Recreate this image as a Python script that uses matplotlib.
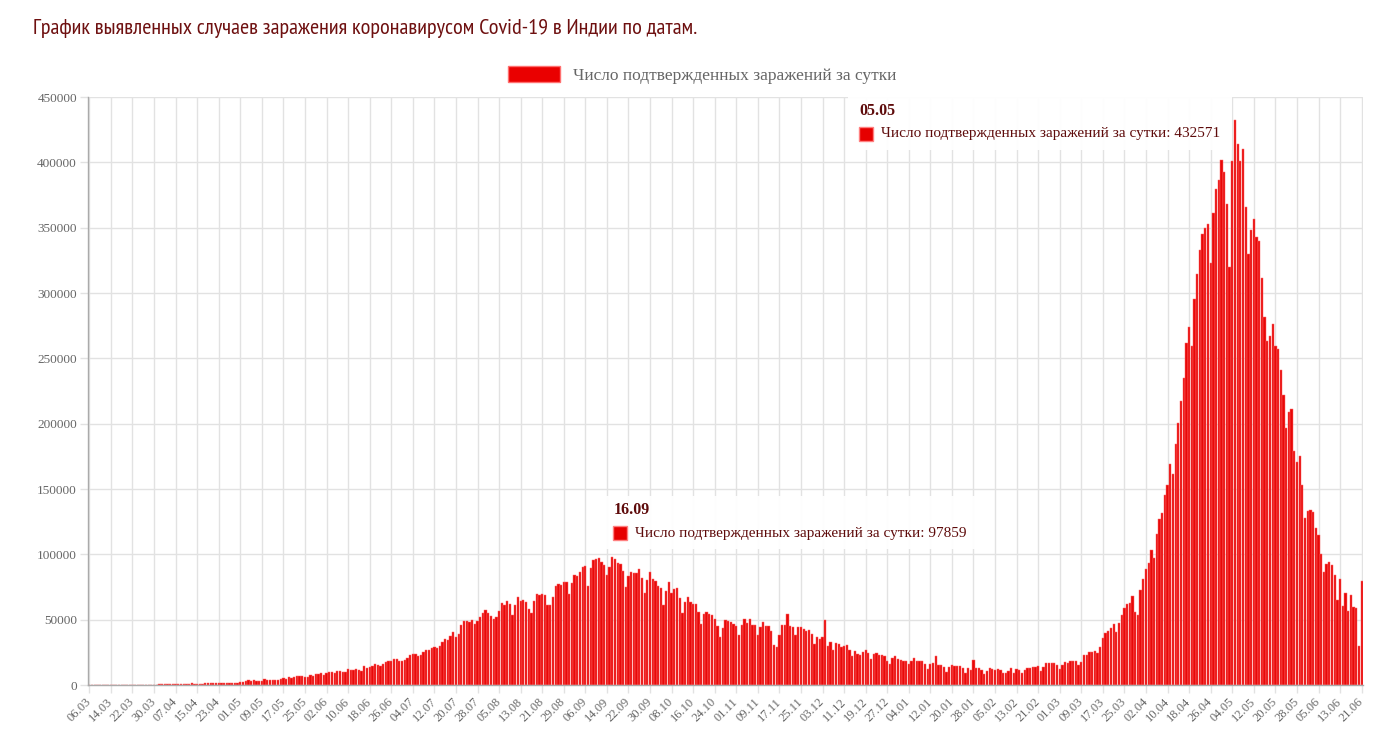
import matplotlib
matplotlib.use('Agg')
import matplotlib.pyplot as plt
import numpy as np
import pandas as pd
from matplotlib.patches import Rectangle
from matplotlib.transforms import IdentityTransform
from matplotlib.font_manager import FontProperties

# ---------------- data ----------------
start_date = '2020-03-06'
series_label = 'Число подтвержденных заражений за сутки'
title_text = 'График выявленных случаев заражения коронавирусом Covid-19 в Индии по датам.'
tooltip_dates = ['2020-09-16', '2021-05-05']

mar20 = [3, 3, 5, 4, 13, 12, 11, 9, 20, 11, 22, 23, 14, 38, 50, 86, 66, 103, 37, 121,
         70, 160, 100, 135, 169, 309]
apr20 = [424, 486, 560, 579, 609, 484, 573, 565, 813, 871, 854, 758, 1243, 1031, 886,
         1061, 922, 1371, 1580, 1239, 1537, 1292, 1667, 1408, 1835, 1607, 1561, 1873, 1738, 1801]
may20 = [2396, 2564, 2952, 3656, 2971, 3602, 3344, 3339, 3175, 4311, 3592, 3562, 3726, 3991,
         3808, 4794, 5050, 4630, 6147, 5553, 6198, 6568, 6629, 7111, 6414, 6382, 7466, 7246,
         8364, 8102, 8838]
jun20 = [7761, 8818, 9638, 9849, 9472, 10438, 10864, 9982, 9985, 12375, 11128, 11306, 12023,
         11502, 10667, 14516, 13106, 13827, 14740, 15915, 15151, 14831, 15968, 17292, 18185,
         18041, 20131, 19620, 18339, 18256]
jul20 = [19428, 20903, 22721, 24018, 23942, 22500, 22752, 24879, 26506, 27114, 28637, 29108,
         28498, 29917, 32607, 34884, 34820, 37407, 40243, 36810, 39170, 45720, 48916, 49310,
         48472, 49931, 46484, 49001, 52123, 55078, 57118]
aug20 = [54735, 52972, 50629, 52050, 56282, 62538, 61537, 64399, 62064, 53601, 60963, 66999,
         64553, 65002, 63490, 57981, 55079, 64531, 69652, 68898, 69878, 69239, 61408, 60975,
         67151, 75760, 77266, 76472, 78761, 78512, 69921]
sep20 = [78357, 83883, 83341, 86432, 90632, 90802, 75809, 89706, 95735, 96551, 97570, 94372,
         92071, 83809, 90123, 97859, 96424, 93337, 92605, 86961, 75083, 83347, 86508, 86052,
         85362, 88600, 82170, 70589, 80472, 86821]
oct20 = [81484, 79476, 75829, 74442, 61267, 72049, 78524, 70496, 73272, 74383, 66732, 55342,
         63509, 67708, 63371, 62212, 61871, 55722, 46790, 54044, 55839, 54366, 53370, 50129,
         45148, 36470, 43893, 49881, 48648, 48268, 46964]
nov20 = [45231, 38310, 46253, 50210, 47638, 50357, 45674, 45903, 38073, 44281, 47905, 44879,
         44878, 41100, 30548, 29163, 38617, 45576, 45882, 54000, 45209, 44059, 37975, 44376,
         44489, 43082, 41322, 41810, 38772, 31118]
dec20 = [36604, 35551, 36595, 50000, 30000, 32981, 26567, 32080, 31521, 29398, 30006, 30254,
         27071, 22065, 26382, 24010, 22890, 25152, 26624, 24337, 19556, 23950, 24712, 23067,
         23068, 22273, 18732, 16432, 20550, 21822, 20035]
jan21 = [19078, 18177, 18088, 16375, 18088, 20346, 18139, 18222, 18645, 16311, 12584, 15968,
         16946, 22000, 15158, 15144, 13788, 10064, 13823, 15223, 14545, 14256, 14849, 13203,
         9102, 12689, 11666, 18855, 13083, 13052, 11427]
feb21 = [8635, 11039, 12899, 12408, 11713, 12059, 11831, 9110, 9110, 11067, 12923, 9309,
         12143, 11649, 9121, 11610, 12881, 13193, 13993, 13993, 14264, 10584, 13742, 16738,
         16577, 16488, 16752, 15510]
mar21 = [12286, 14989, 17407, 16838, 18327, 18711, 18711, 15388, 17921, 22854, 23285, 24882,
         25320, 26291, 24492, 28903, 35871, 39726, 40953, 43846, 46951, 40715, 47262, 53476,
         59118, 62258, 62714, 68020, 56211, 53480, 72330]
apr21 = [81466, 89129, 93249, 103558, 96982, 115736, 126789, 131968, 145384, 152879, 168912,
         161736, 184372, 200739, 217353, 234692, 261500, 273810, 259170, 295041, 314835,
         332730, 345147, 349691, 352991, 323144, 360960, 379257, 386452, 401993]
may21 = [392488, 368147, 320000, 401000, 432571, 414188, 401078, 410000, 366161, 329942,
         348421, 357000, 343144, 340000, 311170, 281386, 263533, 267334, 276110, 259551,
         257299, 240842, 222315, 196427, 208921, 211298, 179000, 170500, 175000, 152734, 127510]
jun21 = [132788, 134154, 132364, 120529, 114460, 100636, 86498, 92596, 94052, 91702, 84332,
         65000, 81000, 60471, 70600, 57000, 69000, 60000, 59000, 30000, 79500]

values = np.array(mar20 + apr20 + may20 + jun20 + jul20 + aug20 + sep20 + oct20 + nov20 +
                  dec20 + jan21 + feb21 + mar21 + apr21 + may21 + jun21)
dates = pd.date_range(start_date, periods=len(values), freq='D')
labels = list(dates.strftime('%d.%m'))
x = np.arange(len(values))

# ---------------- style ----------------
W, H = 1378, 736
serif = ['Liberation Serif', 'DejaVu Serif']
narrow = ['PT Sans Narrow', 'DejaVu Sans']
bar_color = '#e80808'
grid_color = '#e2e2e2'
tick_color = '#666666'
dark_red = '#5e0b0b'

fig = plt.figure(figsize=(W / 100, H / 100), dpi=100)
ax = fig.add_axes([88 / W, (H - 685) / H, (1363 - 88) / W, (685 - 97) / H])

ax.bar(x, values, width=0.84, color=bar_color, edgecolor='#ff6a6a', linewidth=0.35,
       zorder=2, label=series_label)

ax.set_xlim(-0.5, len(values) - 0.5)
ax.set_ylim(0, 450000)
yt = np.arange(0, 450001, 50000)
ax.set_yticks(yt)
ax.set_yticklabels([str(v) for v in yt], fontfamily=serif)
ax.set_xticks(x[::8])
ax.set_xticklabels(labels[::8], rotation=45, ha='right', va='center',
                   rotation_mode='anchor', fontfamily=serif)

ax.grid(True, color=grid_color, linewidth=1.0, zorder=0)
ax.set_axisbelow(True)
for s in ['top', 'right']:
    ax.spines[s].set_visible(False)
for s in ['left', 'bottom']:
    ax.spines[s].set_color('#aaaaaa')
    ax.spines[s].set_linewidth(1.0)
ax.tick_params(axis='both', length=6, color=grid_color, labelcolor=tick_color,
               labelsize=9, width=1.0)
ax.tick_params(axis='y', pad=2, labelsize=9.5)
ax.tick_params(axis='x', pad=5)

# title
fig.text(33 / W, 1 - 28 / H, title_text, ha='left', va='center', fontsize=16,
         color='#6e1010', family=narrow)

# legend
handle = Rectangle((0, 0), 1, 1, facecolor='#ea0000', edgecolor='#ff7070', linewidth=1)
leg = fig.legend([handle], [series_label], loc='center', bbox_to_anchor=(702 / W, 1 - 75 / H),
                 frameon=False, handlelength=3.0, handleheight=1.05, handletextpad=0.75,
                 prop=FontProperties(family=serif, size=12.5))
for t in leg.get_texts():
    t.set_color('#666666')

# tooltips
ident = IdentityTransform()
renderer = fig.canvas.get_renderer()
tooltip_offsets = [(-10, 8), (-387, -30)]


def tooltip(date_str, box_dx, box_dy):
    i = int(np.where(dates == pd.Timestamp(date_str))[0][0])
    xb, yb = ax.transData.transform((x[i], values[i]))
    left, bottom = xb + box_dx, yb + box_dy
    body = f'{series_label}: {int(values[i])}'
    fig.text(left + 11, bottom + 39, labels[i], transform=ident, ha='left', va='center',
             fontsize=11.5, fontweight='bold', color=dark_red, family=serif, zorder=12)
    tb = fig.text(left + 33, bottom + 16, body, transform=ident, ha='left', va='center',
                  fontsize=11, color=dark_red, family=serif, zorder=12)
    bw = tb.get_window_extent(renderer).width
    fig.add_artist(Rectangle((left, bottom), 33 + bw + 12, 53, transform=ident,
                             facecolor='white', edgecolor='none', alpha=0.96, zorder=10))
    fig.add_artist(Rectangle((left + 11, bottom + 16 - 7), 14, 14, transform=ident,
                             facecolor='#e60000', edgecolor='#ff8080', linewidth=1, zorder=11))


for d, (dx, dy) in zip(tooltip_dates, tooltip_offsets):
    tooltip(d, dx, dy)

fig.savefig('out.png', dpi=100, facecolor='white')
